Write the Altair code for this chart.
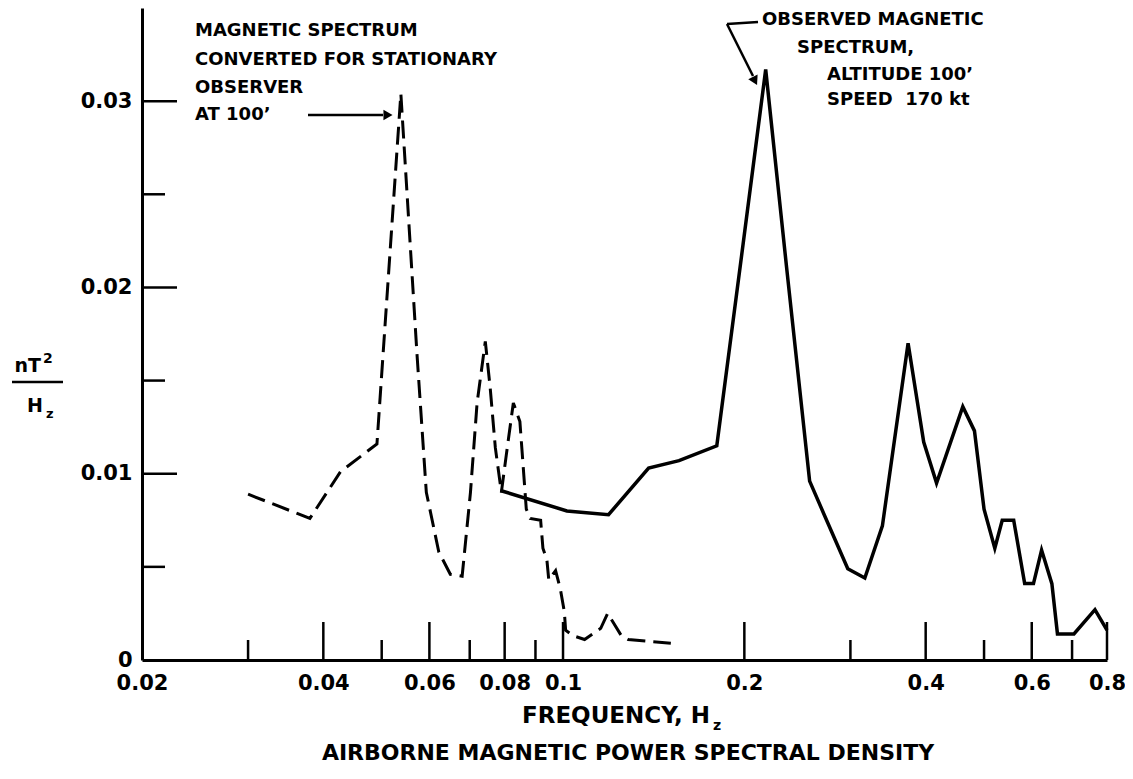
import altair as alt
import pandas as pd

# ---------------- data ----------------
STAT_FREQ = [0.030, 0.038, 0.0427, 0.0491, 0.0538, 0.0572, 0.0593, 0.0622, 0.0650, 0.0680,
             0.0702, 0.0720, 0.0743, 0.0757, 0.0772, 0.0790, 0.0805, 0.0827, 0.0848, 0.0869,
             0.0882, 0.0918, 0.0926, 0.0940, 0.0947, 0.0972, 0.0990, 0.1005, 0.1010, 0.1040,
             0.1086, 0.1155, 0.1186, 0.1250, 0.1283, 0.1510]
STAT_PSD = [0.0089, 0.0076, 0.0101, 0.0116, 0.0304, 0.0165, 0.0090, 0.0058, 0.0046, 0.0045,
            0.0090, 0.0138, 0.0171, 0.0146, 0.0114, 0.0090, 0.0110, 0.0138, 0.0128, 0.0081,
            0.0076, 0.0075, 0.0060, 0.0054, 0.0043, 0.0048, 0.0038, 0.0026, 0.0016, 0.0013,
            0.0011, 0.0017, 0.0025, 0.0013, 0.0011, 0.0009]

OBS_FREQ = [0.0787, 0.1015, 0.1190, 0.1387, 0.1558, 0.1800, 0.1990, 0.2170, 0.2350, 0.2567,
            0.2714, 0.2970, 0.3170, 0.3390, 0.3740, 0.3970, 0.4170, 0.4610, 0.4820, 0.5000,
            0.5210, 0.5360, 0.5600, 0.5840, 0.6040, 0.6230, 0.6480, 0.6620, 0.7050, 0.7640,
            0.8000]
OBS_PSD = [0.0091, 0.0080, 0.0078, 0.0103, 0.0107, 0.0115, 0.0223, 0.0317, 0.0211, 0.0096,
           0.0078, 0.0049, 0.0044, 0.0072, 0.0170, 0.0117, 0.0095, 0.0136, 0.0123, 0.0081,
           0.0060, 0.0075, 0.0075, 0.0041, 0.0041, 0.0059, 0.0041, 0.0014, 0.0014, 0.0027,
           0.0016]

X_LABEL_VALUES = [0.02, 0.04, 0.06, 0.08, 0.1, 0.2, 0.4, 0.6, 0.8]
X_MAJOR_TICKS = [0.04, 0.06, 0.08, 0.1, 0.2, 0.4, 0.6, 0.8]
X_MINOR_TICKS = [0.03, 0.05, 0.07, 0.09, 0.3, 0.5, 0.7]
Y_LABEL_VALUES = [0, 0.01, 0.02, 0.03]
Y_MAJOR_TICKS = [0.01, 0.02, 0.03]
Y_MINOR_TICKS = [0.005, 0.015, 0.025]

LEFT_NOTE = ["MAGNETIC SPECTRUM", "CONVERTED FOR STATIONARY", "OBSERVER", "AT 100\u2019"]
RIGHT_NOTE = ["OBSERVED MAGNETIC", "SPECTRUM,", "ALTITUDE 100\u2019", "SPEED\u00a0\u00a0170 kt"]
X_TITLE = "FREQUENCY, H"
SUB_Z = "z"
Y_TITLE_NUM = "nT"
Y_TITLE_SUP = "2"
Y_TITLE_DEN = "H"
TITLE = "AIRBORNE MAGNETIC POWER SPECTRAL DENSITY"

# ---------------- layout ----------------
W, H = 965, 652
FONT = "DejaVu Sans"
xs = alt.Scale(type="log", domain=[0.02, 0.8], nice=False)
ys = alt.Scale(domain=[0, 0.035], nice=False, zero=True)

stat_df = pd.DataFrame({"f": STAT_FREQ, "p": STAT_PSD})
obs_df = pd.DataFrame({"f": OBS_FREQ, "p": OBS_PSD})

x_axis = alt.Axis(values=X_LABEL_VALUES, format="~g", title=None, ticks=False, grid=False,
                  domainColor="black", domainWidth=3, labelColor="black", labelFont=FONT,
                  labelFontWeight="bold", labelFontSize=21, labelPadding=12,
                  labelFlush=False, labelOverlap=False)
y_axis = alt.Axis(values=Y_LABEL_VALUES, format="~g", title=None, ticks=False, grid=False,
                  domainColor="black", domainWidth=3, labelColor="black", labelFont=FONT,
                  labelFontWeight="bold", labelFontSize=21, labelPadding=10,
                  labelOverlap=False, labelFlush=False)

X_ENC = alt.X("f:Q", scale=xs, axis=x_axis)
Y_ENC = alt.Y("p:Q", scale=ys, axis=y_axis)

stat = alt.Chart(stat_df).mark_line(color="black", strokeWidth=3, strokeDash=[18, 8]).encode(
    x=X_ENC, y=Y_ENC)
obs = alt.Chart(obs_df).mark_line(color="black", strokeWidth=3.5, strokeJoin="miter").encode(
    x=X_ENC, y=Y_ENC)

def xticks(vals, length):
    return alt.Chart(pd.DataFrame({"f": vals})).mark_rule(color="black", strokeWidth=2.5).encode(
        x=X_ENC, y=alt.value(H), y2=alt.value(H - length))

def yticks(vals, length):
    return alt.Chart(pd.DataFrame({"p": vals})).mark_rule(color="black", strokeWidth=2.5).encode(
        y=Y_ENC, x=alt.value(0), x2=alt.value(length))

def label(text, x, y, size=18, align="left", weight="bold", baseline="middle"):
    return alt.Chart(pd.DataFrame({"t": [text]})).mark_text(
        align=align, baseline=baseline, font=FONT, fontSize=size, fontWeight=weight,
        color="black").encode(text="t:N", x=alt.value(x), y=alt.value(y))

def seg(x1, y1, x2, y2, w=2.5):
    return alt.Chart(pd.DataFrame({"a": [0]})).mark_rule(color="black", strokeWidth=w).encode(
        x=alt.value(x1), y=alt.value(y1), x2=alt.value(x2), y2=alt.value(y2))

def head(x, y, shape, angle=0, size=110):
    return alt.Chart(pd.DataFrame({"a": [0]})).mark_point(
        shape=shape, filled=True, color="black", opacity=1, size=size, angle=angle,
        strokeWidth=0).encode(x=alt.value(x), y=alt.value(y))

layers = [stat, obs,
          xticks(X_MAJOR_TICKS, 38), xticks(X_MINOR_TICKS, 20),
          yticks(Y_MAJOR_TICKS, 35), yticks(Y_MINOR_TICKS, 23)]

# left annotation
for txt, yy in zip(LEFT_NOTE, [23, 52, 80, 107]):
    layers.append(label(txt, 53, yy))
layers.append(seg(166, 107, 241, 107))
layers.append(head(246, 107, "triangle-right"))

# right annotation
for txt, xx, yy in zip(RIGHT_NOTE, [620, 655, 685, 685], [12, 40, 67, 92]):
    layers.append(label(txt, xx, yy))
layers.append(seg(585, 16, 616, 14))
layers.append(seg(585, 16, 611, 68))
layers.append(head(613, 73, "triangle-up", angle=153))

# y-axis title (fraction nT^2 / Hz)
layers.append(label(Y_TITLE_NUM, -101, 364, size=19, align="right", baseline="alphabetic"))
layers.append(label(Y_TITLE_SUP, -99, 355, size=14, align="left", baseline="alphabetic"))
layers.append(seg(-130, 374, -79, 374, w=2.5))
layers.append(label(Y_TITLE_DEN, -99, 404, size=19, align="right", baseline="alphabetic"))
layers.append(label(SUB_Z, -96, 410, size=13, align="left", baseline="alphabetic"))

# x-axis title and figure title
layers.append(label(X_TITLE, 568, 715, size=23, align="right", baseline="alphabetic"))
layers.append(label(SUB_Z, 571, 722, size=14, align="left", baseline="alphabetic"))
layers.append(label(TITLE, 486, 752, size=22, align="center", baseline="alphabetic"))

chart = alt.layer(*layers).properties(
    width=W, height=H,
    autosize=alt.AutoSizeParams(type="none"),
    padding={"left": 134, "top": 0, "right": 18, "bottom": 110},
    background="white",
).configure_view(stroke=None)

chart.save("out.html", embed_options={"renderer": "svg", "actions": False})
